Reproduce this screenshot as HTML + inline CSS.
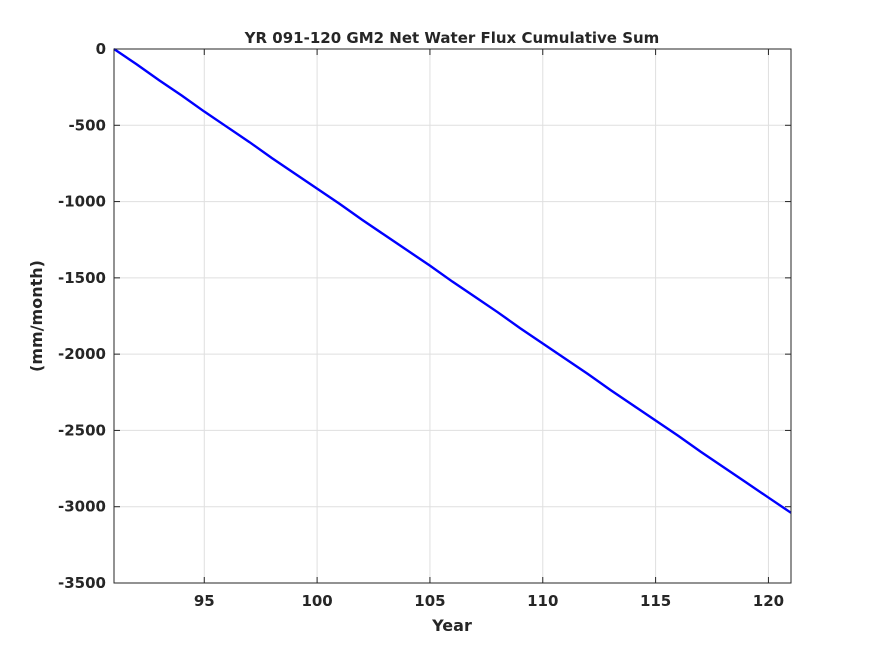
<!DOCTYPE html>
<html><head><meta charset="utf-8"><style>
body{margin:0;background:#fff;}
text{font-family:"DejaVu Sans","Liberation Sans",sans-serif;font-weight:bold;fill:#262626;}
</style></head><body>
<svg id="chart" width="875" height="656" xmlns="http://www.w3.org/2000/svg">
<rect width="875" height="656" fill="#fff"/>
<g id="grid"></g>
<g id="plot"></g>
<g id="axes"></g>
<text x="452" y="43" text-anchor="middle" font-size="15" fill="#000">YR 091-120 GM2 Net Water Flux Cumulative Sum</text>
<text x="452" y="631" text-anchor="middle" font-size="16">Year</text>
<text transform="translate(42,316) rotate(-90)" text-anchor="middle" font-size="16">(mm/month)</text>
</svg>
<script>
const years = [91,92,93,94,95,96,97,98,99,100,101,102,103,104,105,106,107,108,109,110,111,112,113,114,115,116,117,118,119,120,121];
const cumSum = [0,-100,-205,-305,-410,-510,-610,-715,-815,-915,-1015,-1120,-1220,-1320,-1420,-1525,-1625,-1725,-1830,-1930,-2030,-2130,-2235,-2335,-2435,-2535,-2640,-2740,-2840,-2940,-3040];
const xTicks = [95,100,105,110,115,120];
const yTicks = [0,-500,-1000,-1500,-2000,-2500,-3000,-3500];
const X0=114,X1=791,Y0=49,Y1=583;
const xs=v=>X0+(v-91)/(121-91)*(X1-X0);
const ys=v=>Y0+(0-v)/3500*(Y1-Y0);
const NS="http://www.w3.org/2000/svg";
function mk(t,a,p){const e=document.createElementNS(NS,t);for(const k in a)e.setAttribute(k,a[k]);p.appendChild(e);return e;}
const grid=document.getElementById('grid'),axes=document.getElementById('axes'),plot=document.getElementById('plot');
xTicks.forEach(v=>{
  const l=mk('line',{x1:xs(v),x2:xs(v),y1:Y0,y2:Y1,stroke:'#dfdfdf','stroke-width':1},grid);
  
  
  mk('line',{x1:xs(v),x2:xs(v),y1:Y1,y2:Y1-6,stroke:'#262626'},axes);
  mk('line',{x1:xs(v),x2:xs(v),y1:Y0,y2:Y0+6,stroke:'#262626'},axes);
  const t=mk('text',{x:xs(v),y:Y1+23,'text-anchor':'middle','font-size':15},axes);
  t.textContent=v;
  
  
});
yTicks.forEach(v=>{
  const l=mk('line',{x1:X0,x2:X1,y1:ys(v),y2:ys(v),stroke:'#dfdfdf','stroke-width':1},grid);
  
  
  mk('line',{x1:X0,x2:X0+6,y1:ys(v),y2:ys(v),stroke:'#262626'},axes);
  mk('line',{x1:X1,x2:X1-6,y1:ys(v),y2:ys(v),stroke:'#262626'},axes);
  const t=mk('text',{x:X0-8,y:ys(v)+5,'text-anchor':'end','font-size':15},axes);
  t.textContent=v;
  
  
});
const box=mk('rect',{x:X0,y:Y0,width:X1-X0,height:Y1-Y0,fill:'none',stroke:'#262626','stroke-width':1},axes);


const line=mk('polyline',{points:years.map((y,i)=>xs(y)+','+ys(cumSum[i])).join(' '),fill:'none',stroke:'#0000ff','stroke-width':2.4},plot);


</script>
</body></html>
